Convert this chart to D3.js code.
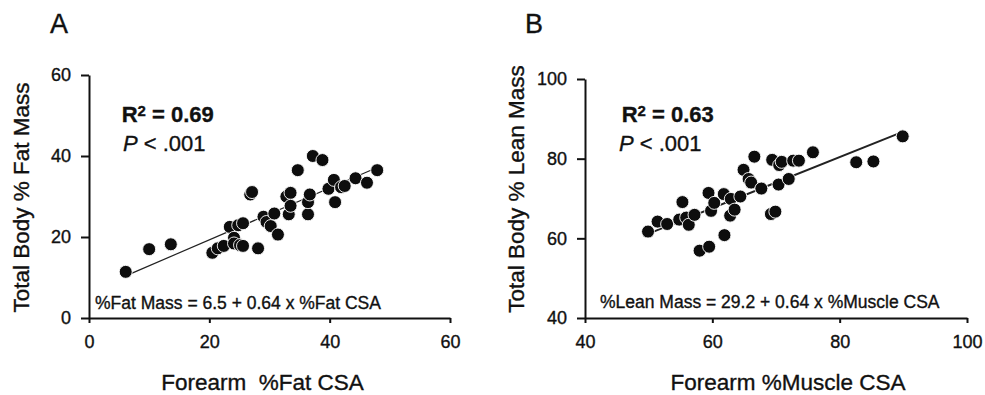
<!DOCTYPE html>
<html>
<head>
<meta charset="utf-8">
<script src="https://cdn.jsdelivr.net/npm/d3@7"></script>
<style>
  html, body { margin: 0; padding: 0; background: #fff; }
  svg { display: block; font-family: "Liberation Sans", Arial, sans-serif; }
  svg text { stroke: #111; stroke-width: 0.35px; }
</style>
</head>
<body>
<svg id="chart" width="985" height="395"></svg>
<script>
// ---- Data ----
const fatCSA = [6.1, 10.0, 13.6, 20.5, 21.4, 22.4, 23.4, 24.8, 25.6, 24.1, 24.1, 25.1, 25.6, 26.8, 27.1, 28.1, 29.0, 29.5, 30.2, 30.8, 31.4, 32.8, 33.5, 33.2, 33.5, 34.7, 36.4, 36.4, 36.7, 37.2, 38.8, 39.8, 40.7, 40.9, 41.9, 42.5, 44.3, 46.2, 47.9];
const fatMass = [11.4, 17.0, 18.2, 16.1, 17.2, 17.8, 22.5, 22.9, 23.4, 19.8, 18.4, 18.0, 17.8, 30.5, 31.1, 17.2, 25.0, 23.7, 22.7, 25.8, 20.6, 30.0, 30.9, 25.6, 27.7, 36.5, 25.6, 28.6, 30.5, 40.0, 39.0, 31.9, 34.1, 28.6, 32.3, 32.6, 34.5, 33.4, 36.5];

const muscleCSA = [49.9, 51.4, 52.9, 54.8, 55.3, 55.9, 56.3, 57.2, 58.0, 59.4, 59.5, 59.8, 60.3, 61.8, 61.9, 62.9, 62.8, 63.5, 64.4, 64.9, 65.7, 66.1, 66.6, 67.7, 69.2, 69.4, 69.9, 70.4, 70.5, 70.9, 72.0, 72.7, 73.6, 75.8, 82.6, 85.3, 89.9];
const leanMass = [61.7, 64.2, 63.6, 64.7, 69.1, 65.2, 63.4, 65.9, 56.9, 71.4, 57.9, 66.9, 68.9, 71.1, 60.8, 69.9, 65.7, 67.2, 70.5, 77.2, 74.9, 74.0, 80.5, 72.5, 66.1, 79.7, 66.7, 73.5, 78.4, 79.2, 74.9, 79.5, 79.5, 81.6, 79.1, 79.3, 85.6];

const ticksA_x = [0, 20, 40, 60];
const ticksA_y = [0, 20, 40, 60];
const ticksB_x = [40, 60, 80, 100];
const ticksB_y = [40, 60, 80, 100];

const fitA = [6.5, 0.64];   // intercept, slope
const fitB = [29.2, 0.64];

const labelsA = { panel: "A", xTitle: "Forearm\u00a0\u00a0%Fat CSA", yTitle: "Total Body % Fat Mass", r2: "0.69", p: " < .001", eq: "%Fat Mass = 6.5 + 0.64 x %Fat CSA" };
const labelsB = { panel: "B", xTitle: "Forearm %Muscle CSA", yTitle: "Total Body % Lean Mass", r2: "0.63", p: " < .001", eq: "%Lean Mass = 29.2 + 0.64 x %Muscle CSA" };

// ---- Drawing ----
const svg = d3.select("#chart");

function panel(cfg) {
  const g = svg.append("g");
  const x = d3.scaleLinear().domain(cfg.xDomain).range(cfg.xRange);
  const y = d3.scaleLinear().domain(cfg.yDomain).range(cfg.yRange);
  const L = cfg.labels;

  // axes
  const ax = g.append("g").attr("transform", `translate(0,${cfg.yRange[0]})`)
    .call(d3.axisBottom(x).tickValues(cfg.xTicks).tickSize(5).tickPadding(12).tickSizeOuter(0));
  const ay = g.append("g").attr("transform", `translate(${cfg.xRange[0]},0)`)
    .call(d3.axisLeft(y).tickValues(cfg.yTicks).tickSize(8).tickPadding(10).tickSizeOuter(0));
  [ax, ay].forEach(a => {
    a.select(".domain").attr("stroke", "#111").attr("stroke-width", 2);
    a.selectAll(".tick line").attr("stroke", "#111").attr("stroke-width", 2);
    a.selectAll(".tick text").attr("fill", "#111").attr("font-size", 18)
      .attr("font-family", "'Liberation Sans', Arial, sans-serif");
  });

  // regression line
  const xs = d3.extent(cfg.xs);
  g.append("line")
    .attr("x1", x(xs[0])).attr("y1", y(cfg.fit[0] + cfg.fit[1] * xs[0]))
    .attr("x2", x(xs[1])).attr("y2", y(cfg.fit[0] + cfg.fit[1] * xs[1]))
    .attr("stroke", "#222").attr("stroke-width", cfg.lineW);

  // points
  g.selectAll("circle.pt").data(cfg.xs.map((v, i) => [v, cfg.ys[i]]))
    .enter().append("circle").attr("class", "pt")
    .attr("cx", d => x(d[0])).attr("cy", d => y(d[1])).attr("r", 6.5)
    .attr("fill", "#0d0d0d").attr("stroke", "#fff").attr("stroke-width", 0.9);

  // panel letter
  g.append("text").attr("x", cfg.panelPos[0]).attr("y", cfg.panelPos[1])
    .attr("font-size", 27).attr("fill", "#111").text(L.panel);

  // axis titles
  g.append("text").attr("x", cfg.xTitlePos[0]).attr("y", cfg.xTitlePos[1])
    .attr("text-anchor", "middle").attr("font-size", 22.5).attr("fill", "#111").text(L.xTitle);
  g.append("text")
    .attr("transform", `translate(${cfg.yTitlePos[0]},${cfg.yTitlePos[1]}) rotate(-90)`)
    .attr("text-anchor", "middle").attr("font-size", 22.5).attr("fill", "#111").text(L.yTitle);

  // R^2 annotation
  const r = g.append("text").attr("x", cfg.r2Pos[0]).attr("y", cfg.r2Pos[1])
    .attr("font-size", 22).attr("font-weight", "bold").attr("fill", "#111");
  r.append("tspan").text("R");
  r.append("tspan").attr("dy", -6).attr("font-size", 15).text("2");
  r.append("tspan").attr("dy", 6).text(" = " + L.r2);

  // P annotation
  const p = g.append("text").attr("x", cfg.pPos[0]).attr("y", cfg.pPos[1])
    .attr("font-size", 22).attr("fill", "#111");
  p.append("tspan").attr("font-style", "italic").text("P");
  p.append("tspan").text(L.p);

  // equation
  g.append("text").attr("x", cfg.eqPos[0]).attr("y", cfg.eqPos[1])
    .attr("font-size", 17.5).attr("fill", "#111").text(L.eq);
}

panel({
  xDomain: [0, 60], xRange: [89, 450],
  yDomain: [0, 60], yRange: [318, 75],
  xTicks: ticksA_x, yTicks: ticksA_y,
  xs: fatCSA, ys: fatMass, fit: fitA, lineW: 1.2,
  labels: labelsA,
  panelPos: [50, 33], xTitlePos: [262.5, 390], yTitlePos: [29, 197.5],
  r2Pos: [121.7, 122.3], pPos: [123, 151], eqPos: [95, 309]
});

panel({
  xDomain: [40, 100], xRange: [585, 967],
  yDomain: [40, 100], yRange: [318, 79],
  xTicks: ticksB_x, yTicks: ticksB_y,
  xs: muscleCSA, ys: leanMass, fit: fitB, lineW: 2,
  labels: labelsB,
  panelPos: [525, 33], xTitlePos: [788, 390], yTitlePos: [524.4, 189],
  r2Pos: [621.7, 122.3], pPos: [619, 151], eqPos: [600, 308.3]
});
</script>
</body>
</html>
